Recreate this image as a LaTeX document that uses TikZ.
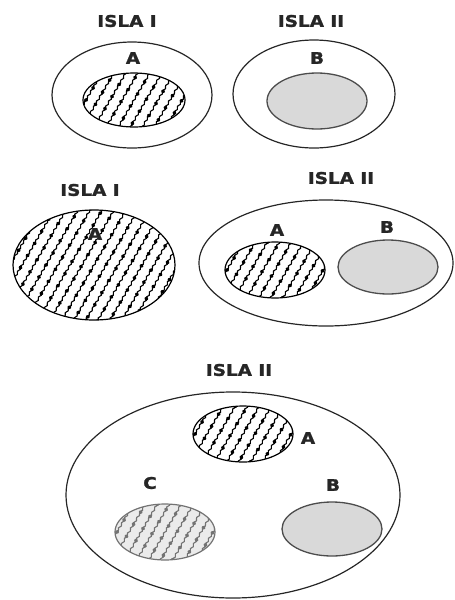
\documentclass[tikz,border=0pt]{standalone}
\usepackage{fontspec}
\newfontfamily\islafont{DejaVu Sans}[FakeStretch=1.15, FakeBold=1.5]
\usetikzlibrary{decorations.pathmorphing}

\tikzset{
  islaline/.style={draw=black!85, line width=1.2pt},
  islatitle/.style={font=\islafont\bfseries\fontsize{16}{16}\selectfont, text=black!85, inner sep=0pt},
  setlabel/.style={font=\islafont\bfseries\fontsize{16}{16}\selectfont, text=black!85, inner sep=0pt},
  grayset/.style={draw=black!70, line width=1.3pt, fill=black!15},
  hatchedge/.style={draw=black!80, line width=1.2pt},
  hatchwave/.style={decorate, decoration={snake, amplitude=0.8pt, segment length=6pt}, line width=1.1pt},
  hatchdots/.style={line width=3.6pt, line cap=round, dash pattern=on 1pt off 13pt},
}

% hatched set: centre x, centre y, x radius, y radius, ink colour, fill colour
\newcommand{\hatchset}[6]{%
  \fill[#6] (#1,#2) ellipse [x radius=#3pt, y radius=#4pt];
  \begin{scope}
    \clip (#1,#2) ellipse [x radius=#3pt, y radius=#4pt];
    \foreach \k in {-11,...,11} {
      \draw[hatchwave, draw=#5] (#1+\k*12-35, #2+60) -- ++(70,-120);
      \pgfmathsetmacro{\ph}{mod(\k*5+60,13)}
      \draw[hatchdots, draw=#5, dash phase=\ph pt] (#1+\k*12-35, #2+60) -- ++(70,-120);
    }
  \end{scope}
  \draw[hatchedge, draw=#5] (#1,#2) ellipse [x radius=#3pt, y radius=#4pt];
}

\begin{document}
\begin{tikzpicture}[x=1pt, y=-1pt]
  \useasboundingbox (0,0) rectangle (455,600);

  % Top row: separate islands
  \node[islatitle] (titleTopI) at (127,21) {ISLA I};
  \draw[islaline] (132,95) ellipse [x radius=80pt, y radius=53pt];
  \hatchset{134}{100}{51}{27}{black}{white}
  \node[setlabel] (setTopA) at (133,58) {A};

  \node[islatitle] (titleTopII) at (311,21) {ISLA II};
  \draw[islaline] (314,94) ellipse [x radius=81pt, y radius=54pt];
  \draw[grayset] (317,101) ellipse [x radius=50pt, y radius=28pt];
  \node[setlabel] (setTopB) at (317,58) {B};

  % Middle row: A fills island I, A and B share island II
  \node[islatitle] (titleMidI) at (90,190) {ISLA I};
  \hatchset{94}{265}{81}{55}{black}{white}
  \node[setlabel] (setMidA) at (95,234) {A};

  \node[islatitle] (titleMidII) at (341,178) {ISLA II};
  \draw[islaline] (326,263) ellipse [x radius=127pt, y radius=63pt];
  \hatchset{275}{270}{50}{28}{black}{white}
  \node[setlabel] (setMidA2) at (277,230) {A};
  \draw[grayset] (388,267) ellipse [x radius=50pt, y radius=27pt];
  \node[setlabel] (setMidB) at (387,227) {B};

  % Bottom: A, B and C on island II
  \node[islatitle] (titleBotII) at (239,370) {ISLA II};
  \draw[islaline] (233,495) ellipse [x radius=167pt, y radius=103pt];
  \hatchset{243}{434}{50}{28}{black}{white}
  \node[setlabel] (setBotA) at (308,438) {A};
  \hatchset{165}{532}{50}{28}{black!55}{black!8}
  \node[setlabel] (setBotC) at (150,483) {C};
  \draw[grayset] (332,529) ellipse [x radius=50pt, y radius=27pt];
  \node[setlabel] (setBotB) at (333,485) {B};
\end{tikzpicture}
\end{document}
